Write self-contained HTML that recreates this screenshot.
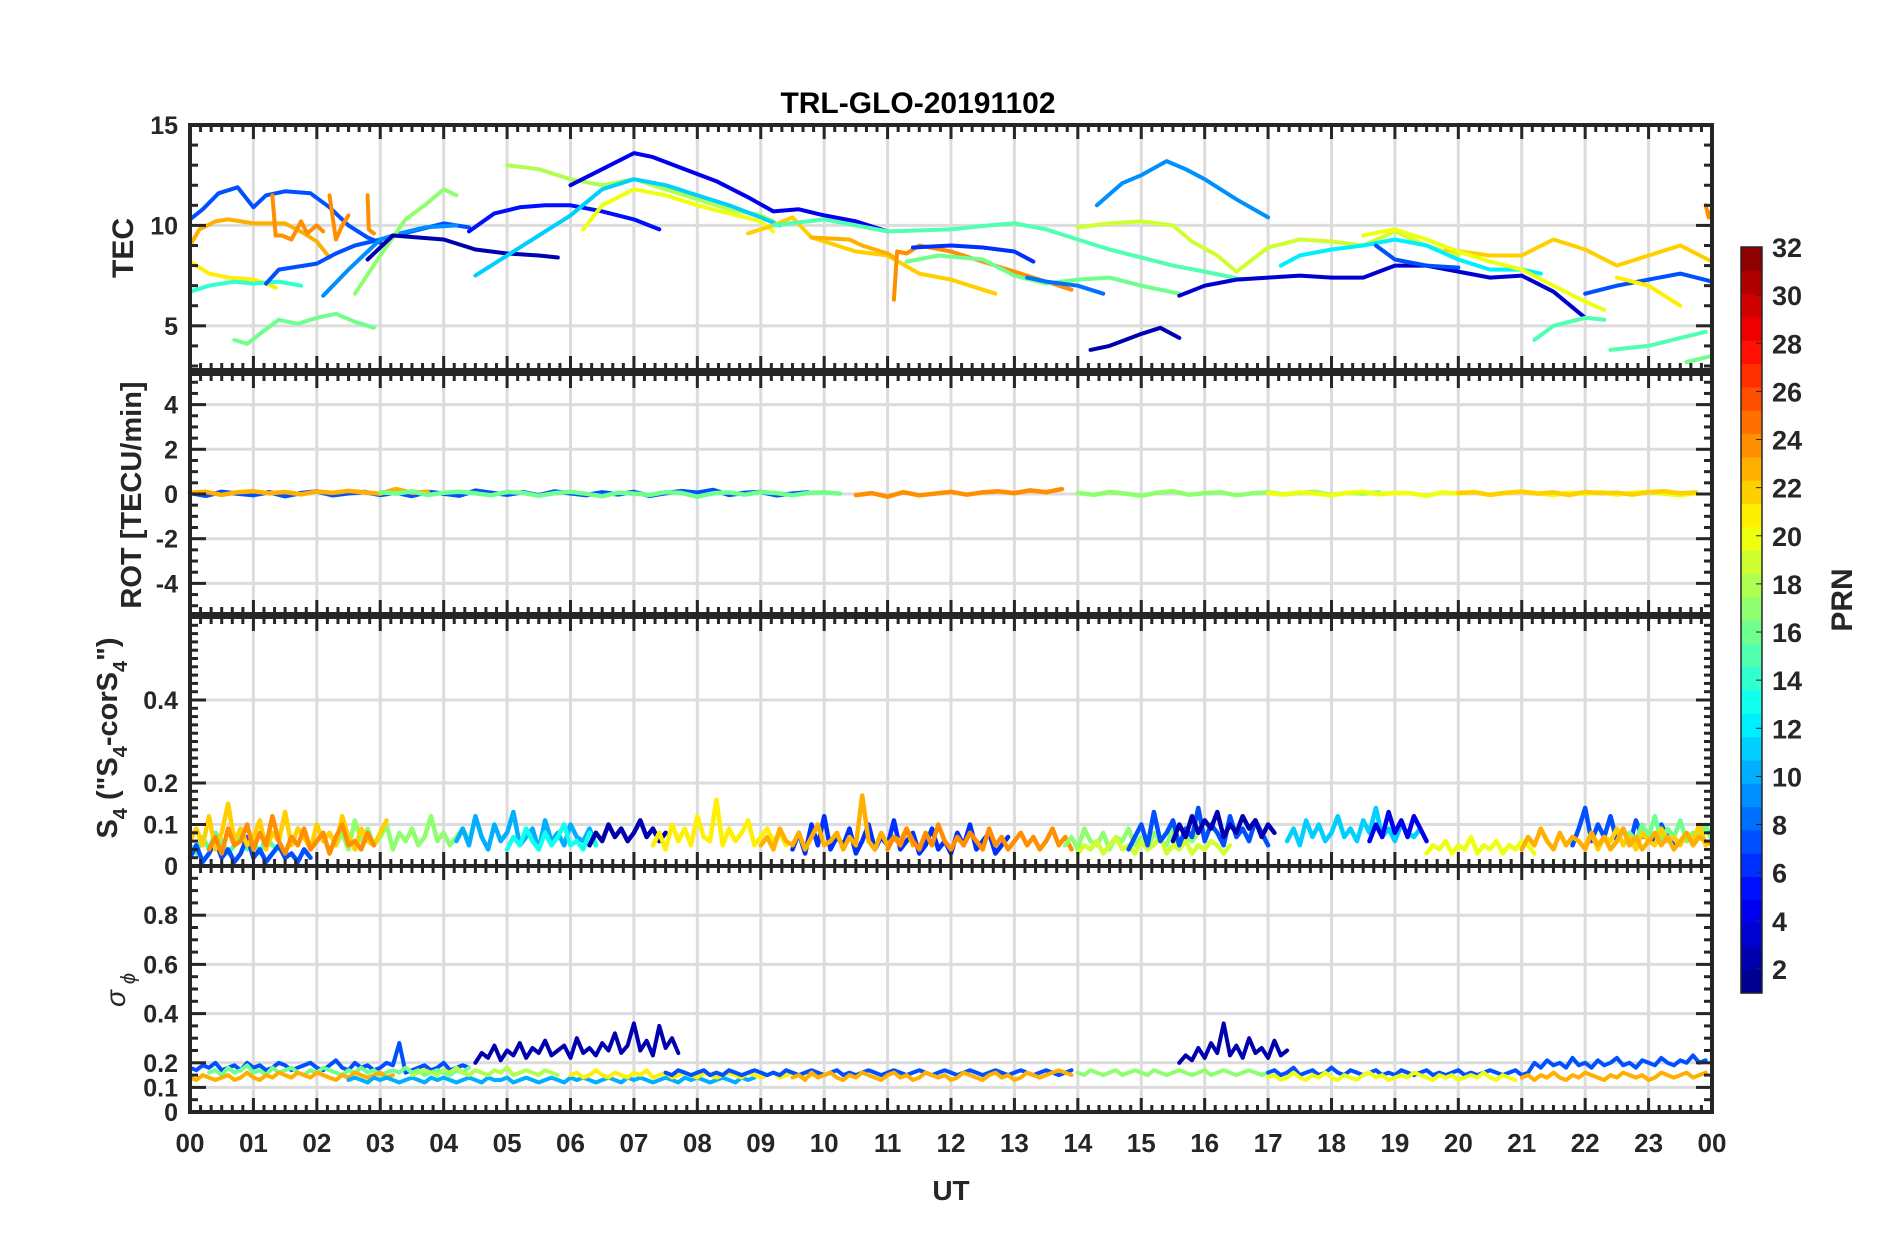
<!DOCTYPE html>
<html><head><meta charset="utf-8">
<style>
html,body{margin:0;padding:0;background:#fff;}
svg{display:block;font-family:"Liberation Sans",Arial,sans-serif;}
</style></head>
<body>
<svg id="fig" width="1902" height="1236" viewBox="0 0 1902 1236" xmlns="http://www.w3.org/2000/svg">
<rect width="1902" height="1236" fill="#fff"/>
<g id="grid"></g>
<g id="series"></g>
<g id="axes"></g>
<text x="918" y="113" text-anchor="middle" font-size="30" font-weight="bold" fill="#000">TRL-GLO-20191102</text>
<text x="951" y="1200" text-anchor="middle" font-size="28" font-weight="bold" fill="#262626">UT</text>
<text transform="translate(133,248) rotate(-90)" text-anchor="middle" font-size="30" font-weight="bold" fill="#262626">TEC</text>
<text transform="translate(141,495) rotate(-90)" text-anchor="middle" font-size="29" font-weight="bold" fill="#262626">ROT [TECU/min]</text>
<text transform="translate(117,738) rotate(-90)" text-anchor="middle" font-size="29" font-weight="bold" fill="#262626">S<tspan font-size="20" dy="10">4</tspan><tspan dy="-10"> ("S</tspan><tspan font-size="20" dy="10">4</tspan><tspan dy="-10">-corS</tspan><tspan font-size="20" dy="10">4</tspan><tspan dy="-10">")</tspan></text>
<text transform="translate(125,990) rotate(-90)" text-anchor="middle" font-size="28" font-style="italic" fill="#262626">σ<tspan font-size="20" dy="10" dx="6">ϕ</tspan></text>
<g id="colorbar"></g>
<text transform="translate(1852,600) rotate(-90)" text-anchor="middle" font-size="30" font-weight="bold" fill="#262626">PRN</text>
</svg>
<script>
// ---------------- data ----------------
const hourLabels = ["00","01","02","03","04","05","06","07","08","09","10","11","12","13","14","15","16","17","18","19","20","21","22","23","00"];
const prnTicks = [2,4,6,8,10,12,14,16,18,20,22,24,26,28,30,32];

// TEC arcs: PRN, times (h), values (TECU)
const tecPrn = [7,23,24,24,24,21,14,16,7,9,17,2,5,18,4,11,20,22,23,24,15,16,19,9,2,6,8,3,12,7,7,22,20,21,15,15,16,24];
const tecTimes = [
 [0,0.2,0.45,0.75,1.0,1.2,1.5,1.9,2.2,2.5,2.8,3.1],
 [0,0.15,0.4,0.6,1.0,1.5,1.8,2.0,2.2],
 [1.3,1.35,1.45,1.6,1.75,1.85,2.0,2.1],
 [2.2,2.3,2.4,2.5],
 [2.8,2.82,2.9],
 [0,0.3,0.6,1.0,1.2,1.35],
 [0,0.3,0.7,1.0,1.4,1.75],
 [0.7,0.9,1.1,1.4,1.7,2.0,2.3,2.6,2.9],
 [1.2,1.4,1.6,2.0,2.3,2.6,3.0,3.5,4.0,4.4],
 [2.1,2.5,2.8,3.0,3.3,3.7,4.2],
 [2.6,3.0,3.4,3.7,4.0,4.2],
 [2.8,3.2,3.6,4.0,4.5,5.0,5.5,5.8],
 [4.4,4.8,5.2,5.6,6.0,6.5,7.0,7.4],
 [5.0,5.5,6.0,6.5,7.0,7.5,8.0,8.5,9.0,9.2],
 [6.0,6.5,7.0,7.3,7.8,8.3,8.8,9.2,9.6,10.0,10.5,11.0],
 [4.5,5.0,5.5,6.0,6.5,7.0,7.5,8.0,8.5,9.0,9.3],
 [6.2,6.5,7.0,7.5,8.0,8.5,9.0,9.2],
 [8.8,9.2,9.5,9.8,10.5,11.0,11.5,12.0,12.5,12.7],
 [9.8,10.4,10.6,11.0,11.1],
 [11.1,11.15,11.3,11.5,12.0,12.5,13.0,13.5,13.9],
 [9.2,10.0,11.0,12.0,12.6,13.0,13.5,14.0,14.5,15.0,15.5,16.0,16.6],
 [11.3,11.8,12.5,13.0,13.5,14.0,14.5,15.0,15.6],
 [14.0,14.5,15.0,15.5,15.8,16.2,16.5,17.0,17.5,18.0,18.5,19.0,19.5,20.0],
 [14.3,14.7,15.0,15.4,15.7,16.0,16.5,17.0],
 [14.2,14.5,15.0,15.3,15.6],
 [11.4,12.0,12.5,13.0,13.3],
 [13.2,13.5,14.0,14.4],
 [15.6,16.0,16.5,17.0,17.5,18.0,18.5,19.0,19.5,20.0,20.5,21.0,21.5,22.0],
 [17.2,17.5,18.0,18.5,19.0,19.5,20.0,20.5,21.0,21.3],
 [18.7,19.0,19.5,20.0],
 [22.0,22.5,23.0,23.5,24.0],
 [19.8,20.5,21.0,21.5,22.0,22.5,23.0,23.5,24.0],
 [18.5,19.0,19.5,20.0,20.5,21.0,21.5,22.0,22.3],
 [22.5,23.0,23.5],
 [21.2,21.5,22.0,22.3],
 [22.4,23.0,23.5,23.9],
 [23.6,24.0],
 [23.9,23.95,24.0]
];
const tecValues = [
 [10.3,10.8,11.6,11.9,10.9,11.5,11.7,11.6,10.9,10.0,9.4,9.0],
 [9.0,9.8,10.2,10.3,10.1,10.1,9.6,9.2,8.4],
 [11.5,9.5,9.5,9.3,10.2,9.6,10.0,9.7],
 [11.5,9.3,10.0,10.5],
 [11.5,9.8,9.6],
 [8.2,7.6,7.4,7.3,7.1,6.9],
 [6.7,7.0,7.2,7.1,7.2,7.0],
 [4.3,4.1,4.6,5.3,5.1,5.4,5.6,5.2,4.9],
 [7.1,7.8,7.9,8.1,8.6,9.0,9.3,9.7,10.1,9.9],
 [6.5,7.8,8.7,9.3,9.6,9.9,10.0],
 [6.6,8.5,10.3,11.0,11.8,11.5],
 [8.3,9.5,9.4,9.3,8.8,8.6,8.5,8.4],
 [9.7,10.6,10.9,11.0,11.0,10.7,10.3,9.8],
 [13.0,12.8,12.3,12.0,12.3,11.8,11.3,10.8,10.5,10.2],
 [12.0,12.8,13.6,13.4,12.8,12.2,11.4,10.7,10.8,10.5,10.2,9.7],
 [7.5,8.5,9.5,10.5,11.8,12.3,12.0,11.5,11.0,10.4,10.0],
 [9.8,11.0,11.8,11.5,11.0,10.6,10.2,9.7],
 [9.6,10.0,10.4,9.4,8.7,8.5,7.6,7.3,6.8,6.6],
 [9.4,9.3,9.0,8.6,8.4],
 [6.3,8.7,8.6,9.0,8.7,8.2,7.7,7.2,6.8],
 [10.0,10.3,9.7,9.8,10.0,10.1,9.8,9.3,8.8,8.4,8.0,7.7,7.3],
 [8.2,8.5,8.3,7.5,7.1,7.3,7.4,7.0,6.6],
 [9.9,10.1,10.2,10.0,9.2,8.5,7.7,8.9,9.3,9.2,9.0,9.7,9.0,8.5],
 [11.0,12.1,12.5,13.2,12.8,12.3,11.3,10.4],
 [3.8,4.0,4.6,4.9,4.4],
 [8.9,9.0,8.9,8.7,8.2],
 [7.4,7.2,7.0,6.6],
 [6.5,7.0,7.3,7.4,7.5,7.4,7.4,8.0,8.0,7.7,7.4,7.5,6.7,5.4],
 [8.0,8.5,8.8,9.0,9.3,9.0,8.3,7.8,7.8,7.6],
 [9.0,8.3,8.0,7.9],
 [6.6,7.0,7.3,7.6,7.2],
 [8.8,8.5,8.5,9.3,8.8,8.0,8.5,9.0,8.2],
 [9.5,9.8,9.3,8.7,8.2,7.8,7.0,6.2,5.8],
 [7.4,7.0,6.0],
 [4.3,5.0,5.4,5.3],
 [3.8,4.0,4.4,4.7],
 [3.2,3.5],
 [11.0,10.4,10.8]
];

// ROT segments: PRN, start hour, values every 0.25 h
const rotPrn = [7,23,16,24,17,20,22];
const rotStart = [0,0,3,10.5,14,17,20];
const rotValues = [
 [0.05,-0.08,0.1,0.02,-0.05,0.08,-0.1,0.04,0.12,-0.06,0.03,0.09,-0.04,0.06,-0.09,0.1,0.02,-0.07,0.15,0.05,-0.03,0.08,-0.06,0.11,0.03,-0.05,0.07,-0.02,0.09,-0.08,0.04,0.13,0.06,0.18,-0.04,0.05,0.09,-0.06,0.02,0.07],
 [0.06,0.1,-0.04,0.08,0.12,0.03,0.09,-0.02,0.11,0.05,0.14,0.07,0.02,0.22,0.06,0.1],
 [0.08,0.02,0.12,-0.05,0.06,0.1,0.03,-0.06,0.09,0.05,-0.08,0.04,0.1,0.01,-0.1,0.06,0.02,-0.04,0.08,0.05,-0.12,0.03,0.07,-0.03,0.09,0.04,-0.06,0.05,0.08,0.02],
 [-0.05,0.04,-0.12,0.08,-0.06,0.02,0.1,-0.03,0.07,0.12,0.04,0.16,0.08,0.22],
 [0.05,-0.04,0.09,0.02,-0.08,0.06,0.12,-0.03,0.04,0.08,-0.06,0.03,0.07,-0.02,0.05,0.1,-0.04,0.06,0.02,0.08],
 [0.04,-0.03,0.08,0.02,-0.06,0.06,0.1,-0.02,0.05,0.03,-0.08,0.07,0.02,0.09,-0.04,0.05,0.11,0.03,-0.05,0.06,0.02,0.08,-0.03,0.05,0.09,0.01,-0.06,0.04],
 [0.05,0.08,-0.04,0.06,0.1,0.02,0.07,-0.05,0.09,0.04,0.06,-0.03,0.08,0.12,0.03,0.07]
];

// S4 segments: PRN, start hour, values every 0.1 h
const s4Prn = [15,7,17,6,10,13,2,21,22,24,23,24,17,19,7,2,11,4,20,7,16,22,23];
const s4Start = [0,0,2.3,9.5,4.2,5.0,6.3,7.3,0,0.3,9.0,11.0,13.8,14.0,14.8,15.5,17.3,18.6,19.5,21.8,22.6,22.0,21.0];
const s4Values = [
 [0.05,0.03,0.07,0.04,0.08,0.06,0.03,0.05,0.09,0.04,0.06,0.03,0.07,0.05,0.04],
 [0.02,0.05,0.01,0.03,0.06,0.02,0.04,0.01,0.03,0.07,0.02,0.04,0.01,0.03,0.05,0.02,0.03,0.01,0.04,0.02],
 [0.05,0.08,0.04,0.11,0.06,0.09,0.05,0.07,0.1,0.04,0.08,0.06,0.09,0.05,0.07,0.12,0.06,0.08,0.05,0.07,0.09,0.06],
 [0.04,0.08,0.03,0.1,0.05,0.12,0.04,0.07,0.05,0.09,0.03,0.06,0.1,0.04,0.07,0.05,0.11,0.04,0.06,0.08,0.03,0.05,0.09,0.04,0.06,0.03,0.08,0.05,0.1,0.04,0.06,0.08,0.03,0.05,0.07],
 [0.06,0.09,0.05,0.12,0.07,0.04,0.1,0.06,0.08,0.13,0.05,0.07,0.09,0.04,0.11,0.06,0.08,0.05,0.1,0.07,0.06,0.09,0.05],
 [0.04,0.07,0.05,0.09,0.06,0.04,0.08,0.05,0.07,0.1,0.05,0.06,0.04,0.08,0.05],
 [0.05,0.08,0.06,0.1,0.07,0.09,0.06,0.08,0.11,0.07,0.09,0.06,0.08],
 [0.05,0.08,0.04,0.1,0.06,0.09,0.05,0.12,0.07,0.06,0.16,0.05,0.09,0.06,0.08,0.11,0.05,0.07,0.09,0.06,0.08,0.05],
 [0.06,0.09,0.05,0.12,0.04,0.08,0.15,0.06,0.09,0.05,0.07,0.11,0.04,0.08,0.06,0.13,0.05,0.09,0.07,0.04,0.1,0.06,0.08,0.05,0.12,0.07,0.04,0.09,0.06,0.05,0.08,0.11],
 [0.04,0.07,0.03,0.09,0.05,0.06,0.1,0.04,0.08,0.05,0.12,0.06,0.03,0.07,0.05,0.09,0.04,0.06,0.08,0.03,0.07,0.1,0.05,0.06,0.04,0.08,0.05],
 [0.05,0.07,0.04,0.09,0.06,0.05,0.08,0.04,0.07,0.1,0.05,0.06,0.08,0.04,0.07,0.05,0.17,0.06,0.04,0.08,0.05,0.07,0.06,0.09,0.05],
 [0.04,0.07,0.05,0.09,0.06,0.04,0.08,0.05,0.1,0.06,0.04,0.07,0.05,0.08,0.06,0.04,0.09,0.05,0.07,0.04,0.06,0.08,0.05,0.07,0.04,0.06,0.09,0.05,0.07,0.04],
 [0.05,0.07,0.04,0.09,0.06,0.05,0.08,0.04,0.07,0.06,0.09,0.05,0.07,0.04,0.08,0.06,0.05,0.09,0.04,0.07,0.06,0.08],
 [0.03,0.05,0.04,0.06,0.03,0.05,0.07,0.04,0.05,0.03,0.06,0.04,0.05,0.07,0.03,0.05,0.04,0.06,0.03,0.05,0.04,0.06,0.05,0.03,0.05],
 [0.04,0.07,0.1,0.05,0.13,0.06,0.08,0.11,0.05,0.09,0.07,0.14,0.06,0.1,0.08,0.05,0.12,0.07,0.09,0.06,0.11,0.08,0.05],
 [0.06,0.1,0.07,0.12,0.08,0.11,0.09,0.13,0.07,0.1,0.08,0.12,0.09,0.11,0.07,0.1,0.08],
 [0.06,0.09,0.05,0.11,0.07,0.1,0.06,0.08,0.12,0.07,0.09,0.06,0.11,0.08,0.14,0.07,0.09,0.06,0.1,0.08,0.07,0.09],
 [0.06,0.1,0.07,0.13,0.08,0.11,0.07,0.12,0.09,0.06],
 [0.03,0.05,0.04,0.06,0.03,0.05,0.04,0.07,0.03,0.05,0.04,0.06,0.03,0.05,0.04,0.06,0.05,0.03],
 [0.05,0.09,0.14,0.06,0.1,0.07,0.12,0.06,0.09,0.05,0.11,0.07,0.08,0.06,0.1,0.07,0.05],
 [0.05,0.08,0.06,0.1,0.07,0.12,0.06,0.09,0.07,0.11,0.06,0.08,0.07,0.1,0.06],
 [0.05,0.08,0.04,0.07,0.06,0.09,0.05,0.07,0.04,0.08,0.06,0.05,0.09,0.06,0.07,0.05,0.08,0.06,0.1,0.05],
 [0.04,0.07,0.05,0.09,0.06,0.04,0.08,0.05,0.07,0.06,0.04,0.08,0.05,0.07,0.04,0.06,0.09,0.05,0.07,0.04,0.06,0.08,0.05,0.07,0.04,0.06,0.08,0.05,0.07,0.06,0.05]
];

// Sigma-phi segments: PRN, start hour, values every 0.1 h
const sigPrn = [7,16,23,10,18,2,21,7,23,17,2,7,20,23];
const sigStart = [0,0.3,0,2.5,3.5,4.5,6.0,7.5,9.5,14.0,15.6,17.0,17.0,21.0];
const sigValues = [
 [0.18,0.17,0.19,0.18,0.2,0.17,0.18,0.19,0.17,0.2,0.18,0.19,0.17,0.18,0.2,0.19,0.17,0.18,0.19,0.2,0.18,0.17,0.19,0.21,0.18,0.17,0.2,0.18,0.19,0.17,0.18,0.2,0.19,0.28,0.16,0.17,0.18,0.19,0.17,0.18,0.2,0.17,0.18,0.19,0.18],
 [0.16,0.17,0.15,0.18,0.16,0.17,0.19,0.16,0.17,0.15,0.18,0.16,0.17,0.18,0.16,0.15,0.17,0.16,0.18,0.17,0.16,0.15,0.17,0.16,0.18,0.16,0.17,0.15,0.16,0.17,0.16,0.18,0.16,0.17,0.15,0.16,0.17,0.16,0.15,0.17,0.16,0.18],
 [0.14,0.13,0.15,0.14,0.13,0.14,0.15,0.13,0.14,0.16,0.14,0.13,0.15,0.14,0.16,0.15,0.14,0.16,0.15,0.14,0.16,0.15,0.14,0.13,0.15,0.14,0.16,0.15,0.14,0.15,0.16,0.14,0.15],
 [0.13,0.14,0.13,0.12,0.14,0.13,0.14,0.13,0.12,0.13,0.14,0.13,0.12,0.14,0.13,0.14,0.13,0.12,0.13,0.14,0.13,0.12,0.14,0.13,0.13,0.14,0.12,0.13,0.14,0.13,0.12,0.13,0.14,0.13,0.12,0.14,0.13,0.14,0.13,0.12,0.13,0.14,0.13,0.12,0.14,0.13,0.14,0.13,0.12,0.13,0.14,0.13,0.12,0.14,0.13,0.14,0.13,0.12,0.13,0.14,0.13,0.12,0.14,0.13,0.14],
 [0.15,0.16,0.17,0.16,0.15,0.17,0.16,0.18,0.16,0.15,0.17,0.16,0.15,0.17,0.16,0.18,0.15,0.16,0.17,0.16,0.15,0.17,0.16,0.15],
 [0.2,0.24,0.22,0.27,0.21,0.25,0.23,0.28,0.22,0.26,0.24,0.29,0.23,0.25,0.27,0.22,0.3,0.24,0.26,0.23,0.28,0.25,0.32,0.24,0.27,0.36,0.25,0.29,0.23,0.35,0.26,0.3,0.24],
 [0.15,0.16,0.14,0.15,0.17,0.15,0.14,0.16,0.15,0.14,0.16,0.15,0.17,0.14,0.15,0.16,0.14,0.15,0.16,0.15,0.14,0.16,0.15,0.14,0.15,0.16,0.15,0.14,0.16,0.15,0.14,0.15,0.16,0.14,0.15,0.16,0.15,0.14,0.15,0.16],
 [0.16,0.15,0.17,0.16,0.15,0.16,0.17,0.15,0.16,0.15,0.17,0.16,0.15,0.16,0.17,0.16,0.15,0.16,0.15,0.17,0.16,0.15,0.16,0.17,0.16,0.15,0.16,0.17,0.15,0.16,0.15,0.16,0.17,0.16,0.15,0.16,0.17,0.16,0.15,0.16,0.17,0.16,0.15,0.16,0.17,0.16,0.15,0.16,0.17,0.16,0.15,0.16,0.17,0.16,0.15,0.16,0.17,0.16,0.15,0.16,0.17,0.16,0.15,0.16,0.17],
 [0.14,0.15,0.13,0.16,0.14,0.15,0.16,0.14,0.13,0.15,0.14,0.16,0.15,0.14,0.13,0.15,0.16,0.14,0.15,0.13,0.14,0.16,0.15,0.14,0.15,0.13,0.14,0.16,0.15,0.14,0.13,0.15,0.16,0.14,0.15,0.13,0.14,0.16,0.15,0.14,0.15,0.16,0.17,0.16,0.15],
 [0.16,0.15,0.17,0.16,0.15,0.16,0.17,0.15,0.16,0.17,0.16,0.15,0.17,0.16,0.15,0.16,0.17,0.16,0.15,0.16,0.17,0.15,0.16,0.17,0.16,0.15,0.16,0.17,0.16,0.15,0.16],
 [0.2,0.23,0.21,0.26,0.22,0.28,0.24,0.36,0.23,0.27,0.22,0.3,0.24,0.26,0.22,0.29,0.23,0.25],
 [0.16,0.17,0.15,0.16,0.18,0.15,0.16,0.17,0.15,0.16,0.18,0.16,0.15,0.17,0.16,0.15,0.16,0.17,0.15,0.16,0.15,0.17,0.16,0.15,0.16,0.17,0.15,0.16,0.15,0.16,0.17,0.15,0.16,0.15,0.16,0.17,0.16,0.15,0.16,0.17,0.15,0.16,0.2,0.18,0.21,0.19,0.2,0.18,0.22,0.19,0.2,0.18,0.21,0.19,0.2,0.22,0.19,0.2,0.18,0.21,0.2,0.19,0.22,0.2,0.19,0.21,0.2,0.23,0.2,0.21],
 [0.14,0.15,0.13,0.14,0.16,0.14,0.13,0.15,0.14,0.16,0.14,0.13,0.15,0.14,0.13,0.15,0.16,0.14,0.15,0.13,0.14,0.15,0.14,0.16,0.15,0.14,0.13,0.15,0.14,0.15,0.13,0.14,0.15,0.14,0.16,0.14,0.13,0.15,0.14,0.13],
 [0.14,0.15,0.13,0.15,0.14,0.16,0.14,0.13,0.15,0.14,0.16,0.15,0.14,0.13,0.15,0.14,0.16,0.15,0.14,0.15,0.13,0.14,0.16,0.15,0.14,0.15,0.16,0.14,0.15,0.16]
];

// ---------------- rendering ----------------
const NS = "http://www.w3.org/2000/svg";
const X0 = 190, X1 = 1712;
const xScale = h => X0 + (X1 - X0) * h / 24;
const panels = [
 {name:"tec", top:125, bot:370, min:2.8, max:15, labels:[5,10,15], grid:[5,10], minor:1},
 {name:"rot", top:374, bot:614, min:-5.37, max:5.37, labels:[-4,-2,0,2,4], grid:[-4,-2,0,2,4], minor:0.5},
 {name:"s4", top:617, bot:866, min:0, max:0.6, labels:[0,0.1,0.2,0.4], grid:[0.1,0.2,0.4], minor:0.02},
 {name:"sigma", top:866, bot:1112, min:0, max:1, labels:[0,0.1,0.2,0.4,0.6,0.8], grid:[0.1,0.2,0.4,0.6,0.8], minor:0.05}
];
function yScale(p, v){ return p.bot - (p.bot - p.top) * (v - p.min) / (p.max - p.min); }

function jet(v){
  const i = Math.round(v) - 1; const t = (i + 0.5) / 32;
  const f = x => Math.max(0, Math.min(1, x));
  const r = f(1.5 - Math.abs(4 * t - 3)), g = f(1.5 - Math.abs(4 * t - 2)), b = f(1.5 - Math.abs(4 * t - 1));
  return `rgb(${Math.round(r*255)},${Math.round(g*255)},${Math.round(b*255)})`;
}
function mk(tag, attrs, parent){ const e = document.createElementNS(NS, tag); for (const k in attrs) e.setAttribute(k, attrs[k]); parent.appendChild(e); return e; }

const gGrid = document.getElementById("grid"), gSer = document.getElementById("series"), gAx = document.getElementById("axes"), gCb = document.getElementById("colorbar");

panels.forEach(p => {
  for (let h = 1; h < 24; h++) {
    const l = mk("line", {x1:xScale(h), x2:xScale(h), y1:p.top, y2:p.bot, stroke:"#dcdcdc", "stroke-width":3}, gGrid);
    
    
  }
  p.grid.forEach(v => {
    const l = mk("line", {x1:X0, x2:X1, y1:yScale(p, v), y2:yScale(p, v), stroke:"#dcdcdc", "stroke-width":3}, gGrid);
    
    
  });
});

function drawLine(p, xs, ys, prn, width, name){
  let d = "";
  for (let i = 0; i < xs.length; i++) d += (i ? "L" : "M") + xScale(xs[i]).toFixed(1) + "," + yScale(p, ys[i]).toFixed(1);
  const path = mk("path", {d:d, fill:"none", stroke:jet(prn), "stroke-width":width, "stroke-linejoin":"round", "stroke-linecap":"round"}, gSer);
  
  
}
tecPrn.forEach((prn, i) => drawLine(panels[0], tecTimes[i], tecValues[i], prn, 4, "tec-arc-prn" + prn));
rotPrn.forEach((prn, i) => drawLine(panels[1], rotValues[i].map((v, k) => rotStart[i] + 0.25 * k), rotValues[i], prn, 4.5, "rot-series-prn" + prn));
s4Prn.forEach((prn, i) => drawLine(panels[2], s4Values[i].map((v, k) => s4Start[i] + 0.1 * k), s4Values[i], prn, 4.5, "s4-series-prn" + prn));
sigPrn.forEach((prn, i) => drawLine(panels[3], sigValues[i].map((v, k) => sigStart[i] + 0.1 * k), sigValues[i], prn, 4, "sigma-series-prn" + prn));

const AX = "#262626";
panels.forEach(p => {
  const r = mk("rect", {x:X0, y:p.top, width:X1 - X0, height:p.bot - p.top, fill:"none", stroke:AX, "stroke-width":4}, gAx);
  
  
  for (let m = 0; m <= 144; m++) {
    const x = xScale(m / 6), len = (m % 6 === 0) ? 14 : 7;
    mk("line", {x1:x, x2:x, y1:p.top, y2:p.top + len, stroke:AX, "stroke-width":3}, gAx);
    mk("line", {x1:x, x2:x, y1:p.bot, y2:p.bot - len, stroke:AX, "stroke-width":3}, gAx);
  }
  const n0 = Math.ceil(p.min / p.minor - 1e-6), n1 = Math.floor(p.max / p.minor + 1e-6);
  for (let n = n0; n <= n1; n++) {
    const v = n * p.minor, y = yScale(p, v);
    const major = p.labels.some(l => Math.abs(l - v) < 1e-6);
    const len = major ? 16 : 8;
    mk("line", {x1:X0, x2:X0 + len, y1:y, y2:y, stroke:AX, "stroke-width":3}, gAx);
    mk("line", {x1:X1, x2:X1 - len, y1:y, y2:y, stroke:AX, "stroke-width":3}, gAx);
  }
  p.labels.forEach(v => {
    const t = mk("text", {x:X0 - 12, y:yScale(p, v) + 9, "text-anchor":"end", "font-size":25, "font-weight":"bold", fill:AX}, gAx);
    t.textContent = String(v);
    
    
  });
});
hourLabels.forEach((lab, h) => {
  const t = mk("text", {x:xScale(h), y:1152, "text-anchor":"middle", "font-size":26, "font-weight":"bold", fill:AX}, gAx);
  t.textContent = lab;
  
  
});

// colorbar
const CB = {x:1741, w:21, top:247, bot:993, min:1, max:32};
const cbY = v => CB.bot - (CB.bot - CB.top) * (v - CB.min) / (CB.max - CB.min);
for (let k = 1; k <= 32; k++) {
  const y0 = CB.top + (CB.bot - CB.top) * (32 - k) / 32;
  const r = mk("rect", {x:CB.x, y:y0, width:CB.w, height:(CB.bot - CB.top) / 32 + 0.6, fill:jet(k)}, gCb);
  
  
}
mk("rect", {x:CB.x, y:CB.top, width:CB.w, height:CB.bot - CB.top, fill:"none", stroke:AX, "stroke-width":1.5}, gCb);
prnTicks.forEach(v => {
  const y = cbY(v);
  mk("line", {x1:CB.x + CB.w, x2:CB.x + CB.w - 6, y1:y, y2:y, stroke:AX, "stroke-width":1}, gCb);
  const t = mk("text", {x:1772, y:y + 10, "font-size":27, "font-weight":"bold", fill:AX}, gCb);
  t.textContent = String(v);
  
  
});
</script>
</body></html>
